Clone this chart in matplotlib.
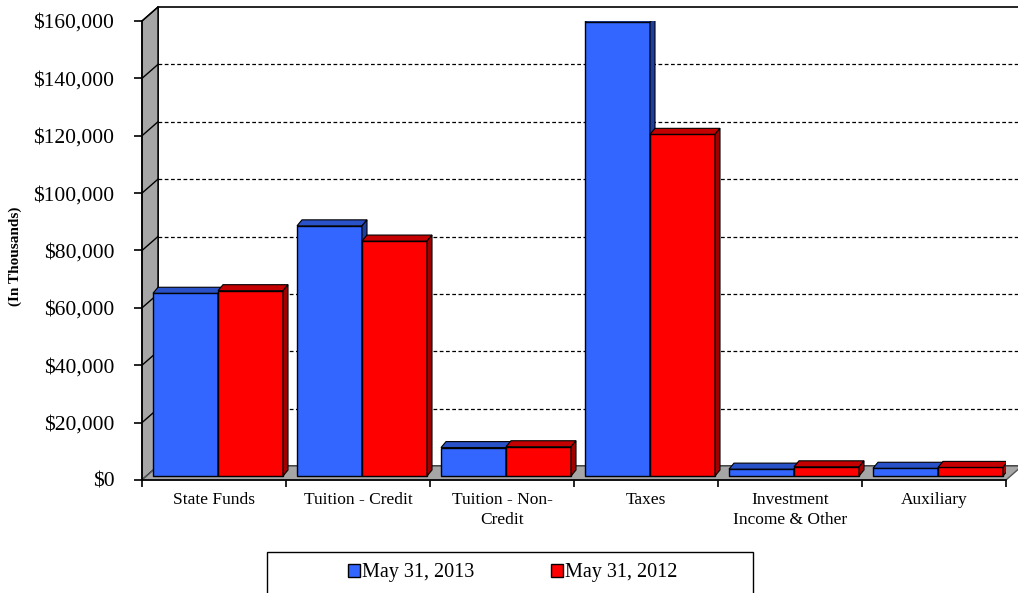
import numpy as np
import matplotlib.pyplot as plt
from matplotlib.patches import Polygon, Rectangle, Patch

categories = ['State Funds', 'Tuition - Credit', 'Tuition - Non-\nCredit', 'Taxes',
              'Investment\nIncome & Other', 'Auxiliary']
may_2013 = [63700, 87200, 9900, 158200, 2400, 2700]
may_2012 = [64600, 81900, 10200, 119100, 3200, 3000]
series_names = ['May 31, 2013', 'May 31, 2012']
yticks = np.arange(0, 160001, 20000)

plt.rcParams['font.family'] = ['Liberation Serif', 'DejaVu Serif']

W, H = 1018, 593
fig = plt.figure(figsize=(W / 100, H / 100), dpi=100)
ax = fig.add_axes([142 / W, 1 - 480 / H, 864 / W, 459 / H])
ax.set_xlim(0, 6)
ax.set_ylim(0, 160000)

# pixel -> data unit helpers for the fake 3D depth
px_x = 6 / 864
px_y = 160000 / 459
wall_dx, wall_dy = 16 * px_x, 14 * px_y
bar_ox, bar_oy = 4 * px_x, 4 * px_y
bar_dx, bar_dy = 5 * px_x, 6 * px_y
bar_w = 65 * px_x

n = len(categories)
ymax = yticks[-1]

# back wall
ax.add_patch(Polygon([(wall_dx, wall_dy), (n + wall_dx, wall_dy), (n + wall_dx, ymax + wall_dy),
                      (wall_dx, ymax + wall_dy)], closed=True, fc='white', ec='black', lw=1.2,
                     clip_on=False, zorder=1))
# gridlines
for v in yticks[1:-1]:
    ax.plot([wall_dx, n + wall_dx], [v + wall_dy, v + wall_dy], color='black', lw=0.9,
            ls=(0, (3, 2)), clip_on=False, zorder=2)
# left wall
ax.add_patch(Polygon([(0, 0), (0, ymax), (wall_dx, ymax + wall_dy), (wall_dx, wall_dy)], closed=True,
                     fc='#a6a6a6', ec='black', lw=1, clip_on=False, zorder=3))
for v in yticks:
    ax.plot([0, wall_dx], [v, v + wall_dy], color='black', lw=1, clip_on=False, zorder=3)
# floor
ax.add_patch(Polygon([(0, 0), (n, 0), (n + wall_dx, wall_dy), (wall_dx, wall_dy)], closed=True,
                     fc='#a6a6a6', ec='#555555', lw=1, clip_on=False, zorder=3))

colors = [('#3366ff', '#2a52c8', '#1f3f9e'), ('#ff0000', '#c40000', '#a00000')]
x = np.arange(n) + 0.5 + bar_ox
for i in range(n):
    for k, vals in enumerate([may_2013, may_2012]):
        front, top_c, side_c = colors[k]
        x0 = x[i] - bar_w + k * bar_w
        x1 = x0 + bar_w
        top = bar_oy + vals[i]
        ax.bar(x0, vals[i], width=bar_w, bottom=bar_oy, align='edge', color=front,
               edgecolor='black', linewidth=1, zorder=4)
        ax.add_patch(Polygon([(x0, top), (x1, top), (x1 + bar_dx, top + bar_dy), (x0 + bar_dx, top + bar_dy)],
                             closed=True, fc=top_c, ec='black', lw=0.8, zorder=4))
        ax.add_patch(Polygon([(x1, bar_oy), (x1, top), (x1 + bar_dx, top + bar_dy), (x1 + bar_dx, bar_oy + bar_dy)],
                             closed=True, fc=side_c, ec='black', lw=0.8, zorder=4))

for s in ['top', 'right']:
    ax.spines[s].set_visible(False)
for s in ['left', 'bottom']:
    ax.spines[s].set_linewidth(1.2)
    ax.spines[s].set_zorder(5)
ax.patch.set_visible(False)

ax.set_yticks(yticks)
ax.set_yticklabels(['${:,.0f}'.format(v) for v in yticks], fontsize=15.5)
ax.tick_params(axis='y', length=6, width=1.2, pad=14)
ax.set_xticks(np.arange(n) + 0.5)
ax.set_xticklabels(categories, fontsize=12.5, linespacing=1.25)
ax.tick_params(axis='x', length=0, pad=9)
ax.set_xticks(np.arange(n + 1), minor=True)
ax.tick_params(axis='x', which='minor', length=5, width=1.2)

fig.text(15 / W, 1 - 256 / H, '(In Thousands)', rotation=90, fontsize=11, fontweight='bold',
         ha='center', va='center')

# legend
handles = [Patch(fc=colors[0][0], ec='black'), Patch(fc=colors[1][0], ec='black')]
fig.legend(handles, series_names, loc='center', bbox_to_anchor=(513 / W, 1 - 573 / H), ncol=2,
           frameon=False, fontsize=14.5, handlelength=0.6, handleheight=0.6, handletextpad=0.1,
           columnspacing=3.8)
fig.add_artist(Rectangle((267 / W, -0.05), 486 / W, 1 - 552 / H + 0.05, transform=fig.transFigure,
                         fill=False, ec='black', lw=1))

fig.savefig('out.png', dpi=100)
